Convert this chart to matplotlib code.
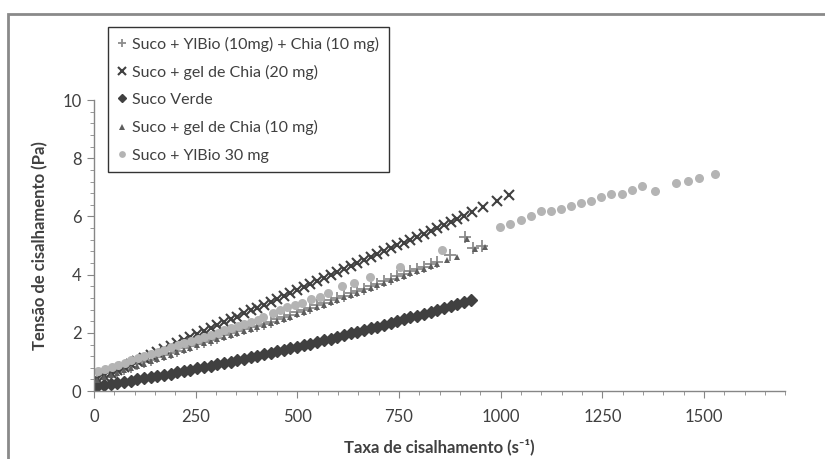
import matplotlib.pyplot as plt
from matplotlib.patches import Rectangle
from matplotlib.ticker import MultipleLocator

plt.rcParams['font.family'] = ['Lato', 'DejaVu Sans']

# shear rate (s-1) and shear stress (Pa)
x_verde = [8, 24, 41, 57, 74, 90, 106, 123, 139, 156, 172, 188, 205, 221, 237, 254,
           270, 287, 303, 319, 336, 352, 369, 385, 401, 418, 434, 451, 467, 483, 500,
           516, 532, 549, 565, 582, 598, 614, 631, 647, 664, 680, 696, 713, 729, 746,
           762, 778, 795, 811, 828, 844, 860, 877, 893, 910, 926]
y_verde = [0.17, 0.20, 0.24, 0.28, 0.32, 0.36, 0.40, 0.44, 0.48, 0.52, 0.56, 0.60,
           0.65, 0.69, 0.73, 0.78, 0.82, 0.87, 0.92, 0.96, 1.01, 1.06, 1.11, 1.16,
           1.21, 1.26, 1.31, 1.37, 1.42, 1.47, 1.53, 1.58, 1.63, 1.69, 1.74, 1.80,
           1.86, 1.92, 1.98, 2.03, 2.10, 2.16, 2.21, 2.28, 2.34, 2.40, 2.47, 2.53,
           2.59, 2.66, 2.73, 2.79, 2.86, 2.93, 2.99, 3.06, 3.13]

x_chia20 = [8, 24, 41, 57, 74, 90, 106, 123, 139, 156, 172, 188, 205, 221, 237, 254,
            270, 287, 303, 319, 336, 352, 369, 385, 401, 418, 434, 451, 467, 483, 500,
            516, 532, 549, 565, 582, 598, 614, 631, 647, 664, 680, 696, 713, 729, 746,
            762, 778, 795, 811, 828, 844, 860, 877, 893, 910, 930, 957, 991, 1021]
y_chia20 = [0.43, 0.53, 0.63, 0.73, 0.84, 0.94, 1.04, 1.14, 1.24, 1.35, 1.45, 1.55,
            1.65, 1.75, 1.85, 1.95, 2.05, 2.16, 2.26, 2.36, 2.46, 2.56, 2.67, 2.77,
            2.87, 2.97, 3.07, 3.18, 3.28, 3.37, 3.48, 3.58, 3.68, 3.78, 3.88, 3.99,
            4.09, 4.19, 4.29, 4.39, 4.50, 4.60, 4.70, 4.80, 4.90, 5.01, 5.10, 5.20,
            5.31, 5.41, 5.51, 5.61, 5.71, 5.82, 5.92, 6.02, 6.15, 6.32, 6.52, 6.74]

x_chia10 = [8, 24, 41, 57, 74, 90, 106, 123, 139, 156, 172, 188, 205, 221, 237, 254,
            270, 287, 303, 319, 336, 352, 369, 385, 401, 418, 434, 451, 467, 483, 500,
            516, 532, 549, 565, 582, 598, 614, 631, 647, 664, 680, 696, 713, 729, 746,
            762, 778, 795, 811, 828, 844, 868, 893, 918, 937, 962]
y_chia10 = [0.39, 0.47, 0.55, 0.62, 0.71, 0.78, 0.86, 0.94, 1.02, 1.10, 1.18, 1.25,
            1.33, 1.41, 1.49, 1.57, 1.64, 1.71, 1.78, 1.85, 1.92, 1.99, 2.06, 2.13,
            2.19, 2.26, 2.33, 2.41, 2.48, 2.56, 2.65, 2.73, 2.81, 2.89, 2.97, 3.06,
            3.14, 3.22, 3.30, 3.38, 3.46, 3.55, 3.63, 3.71, 3.80, 3.89, 3.97, 4.05,
            4.13, 4.21, 4.30, 4.38, 4.50, 4.60, 5.22, 4.88, 4.95]

x_mix = [8, 24, 41, 57, 74, 90, 106, 123, 139, 156, 172, 188, 205, 221, 237, 254,
         270, 287, 303, 319, 336, 352, 369, 385, 401, 418, 434, 451, 467, 483, 500,
         516, 532, 549, 565, 582, 598, 614, 631, 647, 664, 680, 696, 713, 729, 746,
         762, 778, 795, 811, 828, 844, 876, 912, 932, 954]
y_mix = [0.45, 0.53, 0.61, 0.68, 0.77, 0.84, 0.92, 1.00, 1.08, 1.16, 1.24, 1.31,
         1.39, 1.47, 1.55, 1.63, 1.70, 1.77, 1.84, 1.91, 1.98, 2.05, 2.12, 2.19,
         2.25, 2.32, 2.39, 2.47, 2.54, 2.62, 2.71, 2.79, 2.87, 2.95, 3.03, 3.12,
         3.20, 3.28, 3.36, 3.44, 3.52, 3.61, 3.69, 3.77, 3.86, 3.95, 4.03, 4.11,
         4.19, 4.27, 4.36, 4.44, 4.67, 5.29, 4.93, 4.98]

x_ylbio = [10, 26, 43, 59, 75, 92, 108, 124, 141, 157, 173, 190, 206, 222, 239, 255,
           271, 288, 304, 320, 337, 353, 369, 386, 402, 416, 440, 458, 475, 494, 512,
           534, 556, 576, 610, 640, 679, 753, 856, 999, 1023, 1050, 1075, 1100, 1124,
           1149, 1173, 1198, 1223, 1247, 1272, 1299, 1324, 1348, 1380, 1432, 1461,
           1488, 1528]
y_ylbio = [0.69, 0.76, 0.84, 0.91, 0.98, 1.06, 1.13, 1.20, 1.28, 1.35, 1.42, 1.50,
           1.57, 1.64, 1.72, 1.79, 1.86, 1.94, 2.01, 2.09, 2.16, 2.23, 2.31, 2.38,
           2.45, 2.54, 2.68, 2.78, 2.89, 2.96, 3.02, 3.16, 3.23, 3.37, 3.61, 3.71,
           3.92, 4.26, 4.85, 5.64, 5.74, 5.88, 6.01, 6.19, 6.19, 6.25, 6.36, 6.46,
           6.53, 6.67, 6.77, 6.77, 6.91, 7.04, 6.87, 7.15, 7.22, 7.32, 7.46]

fig = plt.figure(figsize=(8.25, 4.59), dpi=100)
ax = fig.add_axes([0.114, 0.148, 0.838, 0.634])

# chart border (cut off on right and bottom like the source)
fig.patches.append(Rectangle((8 / 825, -0.1), 1.1, 1 - 14 / 459 + 0.1,
                             transform=fig.transFigure, fill=False,
                             edgecolor='#8a8a8a', linewidth=2))

ax.plot(x_mix, y_mix, '+', color='#8c8c8c', ms=8, mew=1.3,
        label='Suco + YlBio (10mg) + Chia (10 mg)')
ax.plot(x_chia20, y_chia20, 'x', color='#404040', ms=7, mew=1.5,
        label='Suco + gel de Chia (20 mg)')
ax.plot(x_verde, y_verde, 'D', color='#404040', ms=6, mec='#404040',
        label='Suco Verde')
ax.plot(x_chia10, y_chia10, '^', color='#5e5e5e', ms=5, mew=0,
        label='Suco + gel de Chia (10 mg)')
ax.plot(x_ylbio, y_ylbio, 'o', color='#b4b4b4', ms=6.5, mew=0,
        label='Suco + YlBio 30 mg')

ax.set_xlim(0, 1700)
ax.set_ylim(0, 10)
ax.xaxis.set_major_locator(MultipleLocator(250))
ax.xaxis.set_minor_locator(MultipleLocator(50))
ax.yaxis.set_major_locator(MultipleLocator(2))
ax.yaxis.set_minor_locator(MultipleLocator(0.4))

for s in ['top', 'right']:
    ax.spines[s].set_visible(False)
for s in ['left', 'bottom']:
    ax.spines[s].set_color('#868686')
    ax.spines[s].set_linewidth(1)

ax.tick_params(which='major', direction='out', length=5, color='#868686',
               labelsize=12, labelcolor='#404040', pad=4)
ax.tick_params(which='minor', direction='out', length=3, color='#868686')
ax.tick_params(axis='x', pad=8)

ax.set_xlabel('Taxa de cisalhamento (s⁻¹)', fontsize=12, fontweight='bold',
              color='#404040', labelpad=10)
ax.set_ylabel('Tensão de cisalhamento (Pa)', fontsize=12, fontweight='bold',
              color='#404040', labelpad=10)

leg = ax.legend(loc='upper left', bbox_to_anchor=(108 / 825, 1 - 27 / 459),
                bbox_transform=fig.transFigure, frameon=True, fancybox=False,
                fontsize=11.5, handlelength=0.6, handletextpad=0.3,
                labelspacing=0.82, borderpad=0.6, borderaxespad=0,
                labelcolor='#404040', markerscale=0.75)
leg.get_frame().set_edgecolor('black')
leg.get_frame().set_linewidth(1)

fig.savefig('out.png', dpi=100)
